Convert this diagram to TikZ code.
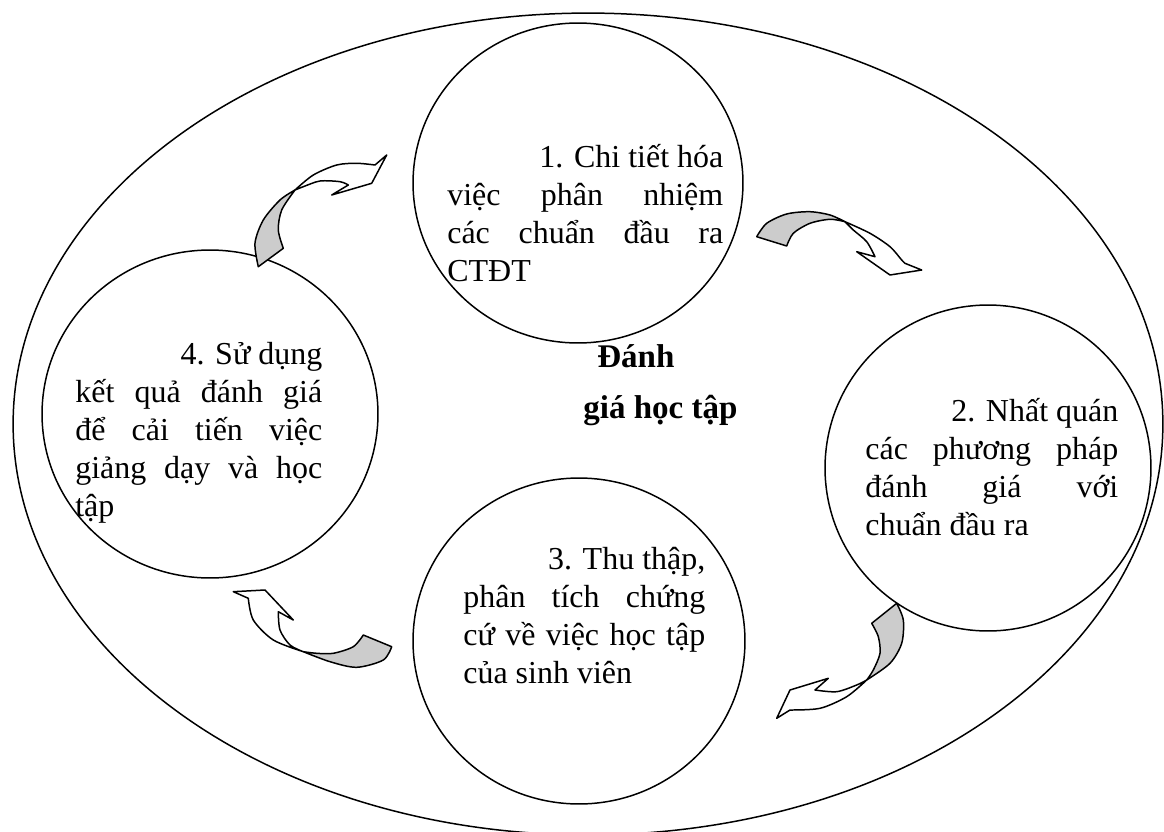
\documentclass[tikz,border=0pt]{standalone}
\usepackage{fontspec}
\setmainfont{Liberation Serif}
\usetikzlibrary{shapes.geometric}
\tolerance=10000
\hbadness=10000
\hyphenpenalty=10000

\begin{document}
\begin{tikzpicture}[x=0.02cm, y=-0.02cm,
bubble/.style={ellipse, draw, line width=0.85pt, inner sep=0pt},
txt/.style={anchor=north west, inner sep=0pt, align=justify, font=\fontsize{18.2}{21.6}\selectfont},
headline/.style={anchor=north west, inner sep=0pt, align=left, font=\fontsize{18.8}{29}\selectfont\bfseries},
backpart/.style={draw, fill=black!20, line width=0.85pt, line join=round},
frontpart/.style={draw, fill=white, line width=0.85pt, line join=round}
]
\useasboundingbox (0,0) rectangle (1164,832);

\node [bubble, minimum width=23cm, minimum height=16.44cm] (vong) at (588,424) {};

\node [bubble, fill=white, minimum width=6.6cm, minimum height=6.4cm] (chitiet) at (578,183) {};
\node [bubble, fill=white, minimum width=6.52cm, minimum height=6.52cm] (nhatquan) at (988,468) {};
\node [bubble, fill=white, minimum width=6.64cm, minimum height=6.52cm] (thuthap) at (579,641) {};
\node [bubble, fill=white, minimum width=6.72cm, minimum height=6.56cm] (sudung) at (210,414) {};

\node [txt, text width=5.52cm] (chitiettxt) at (447,135) {\rule{0pt}{1em}\hspace*{\fill}1. Chi tiết hóa\linebreak việc phân nhiệm\linebreak các chuẩn đầu ra\linebreak CTĐT};
\node [txt, text width=5.06cm] (nhatquantxt) at (865,389) {\rule{0pt}{1em}\hspace*{\fill}2. Nhất quán\linebreak các phương pháp\linebreak đánh giá với\linebreak chuẩn đầu ra};
\node [txt, text width=4.84cm] (thuthaptxt) at (463,537) {\rule{0pt}{1em}\hspace*{\fill}3. Thu thập,\linebreak phân tích chứng\linebreak cứ về việc học tập\linebreak của sinh viên};
\node [txt, text width=4.94cm] (sudungtxt) at (75,332) {\rule{0pt}{1em}\hspace*{\fill}4. Sử dụng\linebreak kết quả đánh giá\linebreak để cải tiến việc\linebreak giảng dạy và học\linebreak tập};

\node [headline] (tam) at (583,334) {\rule{0pt}{1em}\hspace*{0.28cm}Đánh\\giá học tập};

\filldraw [backpart] plot[smooth] coordinates {(258.3,266.7) (255,243) (263.3,220) (280,200) (295,190)}
  -- plot[smooth] coordinates {(295,190) (281.7,210) (278.3,230) (283.3,248.3)} -- cycle;
\filldraw [frontpart] plot[smooth] coordinates {(295,190) (313.3,175) (336.7,165) (356.7,163.3) (375,165)}
  -- (386.7,155) -- (371.7,183.3) -- (331.7,195) -- (348.3,185)
  -- plot[smooth] coordinates {(348.3,185) (340,181.7) (320,181) (303.3,186.7) (295,190)} -- cycle;

\filldraw [backpart] plot[smooth] coordinates {(756.7,236.7) (766.7,223.3) (786.7,214) (810,211.7) (830,215) (845,221.7)}
  -- plot[smooth] coordinates {(845,221.7) (830,219.3) (810,223.3) (793.3,233.3) (786.7,246)} -- cycle;
\filldraw [frontpart] plot[smooth] coordinates {(845,221.7) (870,233.3) (890,246.7) (901.7,260) (905,263.3)}
  -- (921.7,270) -- (890,275) -- (856.7,251.7) -- (875,256.7)
  -- plot[smooth] coordinates {(875,256.7) (866.7,241.7) (853.3,230) (845,221.7)} -- cycle;

\filldraw [backpart] plot[smooth] coordinates {(896.7,603.3) (903.3,620) (901.7,643.3) (890,663.3) (866.7,680)}
  -- plot[smooth] coordinates {(866.7,680) (873.3,670) (880,653.3) (878.3,636.7) (871.7,623.3)} -- cycle;
\filldraw [frontpart] plot[smooth] coordinates {(866.7,680) (846.7,696.7) (820,708.3) (790,710)}
  -- (776.7,718.3) -- (790,690) -- (828.3,678.3) -- (815,690)
  -- plot[smooth] coordinates {(815,690) (836.7,691.7) (856.7,685) (866.7,680)} -- cycle;

\filldraw [backpart] plot[smooth] coordinates {(391.7,646.7) (383.3,660) (356.7,667.3) (330,661.7) (303.3,651.7)}
  -- plot[smooth] coordinates {(303.3,651.7) (316.7,653.3) (333.3,653.3) (353.3,646.7) (363.3,635)} -- cycle;
\filldraw [frontpart] plot[smooth] coordinates {(303.3,651.7) (273.3,640) (253.3,620) (248.3,598.3)}
  -- (233.3,591.7) -- (265,590) -- (293.3,620) -- (278.3,611.7)
  -- plot[smooth] coordinates {(278.3,611.7) (280,630) (290,645) (303.3,651.7)} -- cycle;

\end{tikzpicture}
\end{document}
